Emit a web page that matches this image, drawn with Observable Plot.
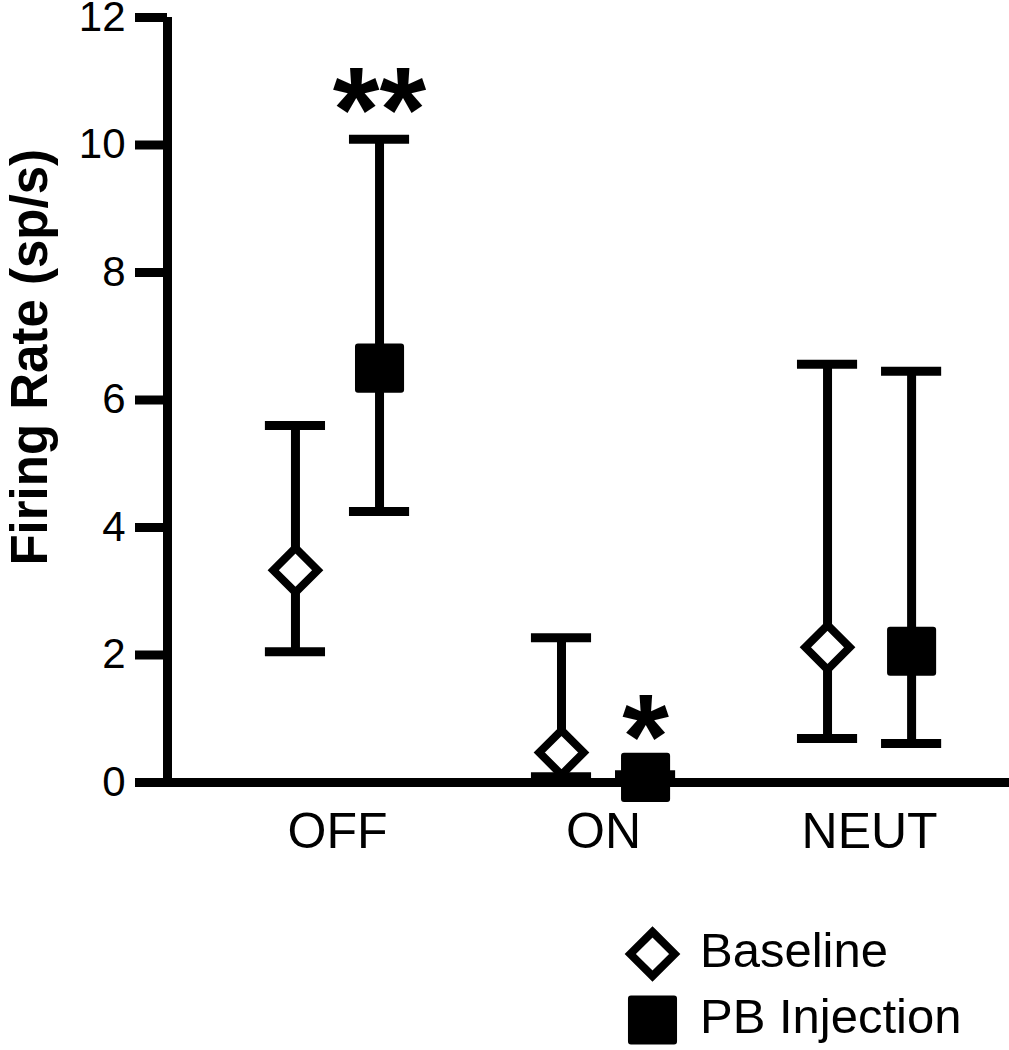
<!DOCTYPE html>
<html><head><meta charset="utf-8">
<script src="https://cdn.jsdelivr.net/npm/d3@7"></script>
<script src="https://cdn.jsdelivr.net/npm/@observablehq/plot@0.6"></script>
<style>
body{margin:0;background:#fff;font-family:"Liberation Sans",Arial,sans-serif;}
#chart svg{display:block;}
</style></head><body><div id="chart"></div><script>
// ---- data ----
const categories = ["OFF", "ON", "NEUT"];
const groups = ["Baseline", "PB Injection"];
const baselineMean = [3.33, 0.47, 2.12];
const baselineLow  = [2.05, 0.09, 0.69];
const baselineHigh = [5.60, 2.27, 6.56];
const pbMean = [6.50, 0.08, 2.06];
const pbLow  = [4.25, 0.00, 0.61];
const pbHigh = [10.09, 0.12, 6.45];
const yTicks = [0, 2, 4, 6, 8, 10, 12];
const sigLabels = ["**", "*", ""];
const sigTop = [11.25, 1.40, null];
const yTitle = "Firing Rate (sp/s)";

// ---- build table ----
const rows = [];
categories.forEach((c, i) => {
  rows.push({cat: c, i, group: groups[0], mean: baselineMean[i], lo: baselineLow[i], hi: baselineHigh[i]});
  rows.push({cat: c, i, group: groups[1], mean: pbMean[i], lo: pbLow[i], hi: pbHigh[i]});
});
const off = 0.158, capHalf = 0.113;
const xDomain = [-0.639, 2.526];
const xPos = d => d.i + (d.group === groups[0] ? -off : off);
const base = rows.filter(d => d.group === groups[0]);
const pb = rows.filter(d => d.group === groups[1]);
const caps = rows.flatMap(d => [{x: xPos(d), y: d.lo}, {x: xPos(d), y: d.hi}]);
const sig = categories.map((c, i) => ({i, label: sigLabels[i], y: sigTop[i]})).filter(d => d.label);

const plot = Plot.plot({
  width: 1009, height: 880,
  marginLeft: 167, marginRight: 0, marginTop: 17, marginBottom: 98,
  style: {fontFamily: "'Liberation Sans', Arial, sans-serif", background: "white", color: "black", overflow: "visible"},
  x: {domain: xDomain},
  y: {domain: [0, 12]},
  marks: [
    Plot.axisY({ticks: yTicks, tickSize: 32, tickPadding: 10, strokeWidth: 9, fontSize: 42, label: null}),
    Plot.axisX({ticks: [0, 1, 2], tickFormat: i => categories[i], tickSize: 0, tickPadding: 30, fontSize: 50, label: null}),
    Plot.ruleX([xDomain[0]], {y1: 0, y2: 12, strokeWidth: 9}),
    Plot.ruleY([0], {strokeWidth: 9}),
    Plot.ruleX(rows, {x: xPos, y1: "lo", y2: "hi", strokeWidth: 9}),
    Plot.ruleY(caps, {y: "y", x1: d => d.x - capHalf, x2: d => d.x + capHalf, strokeWidth: 9}),
    Plot.dot(base, {x: xPos, y: "mean", symbol: "diamond2", r: 20, fill: "white", stroke: "black", strokeWidth: 8}),
    Plot.dot(pb, {x: xPos, y: "mean", symbol: "square", r: 24.3, fill: "black", stroke: "black", strokeWidth: 6, strokeLinejoin: "round"}),
    Plot.text(sig, {x: d => d.i + off, y: "y", text: "label", fontSize: 120, fontWeight: "bold", lineAnchor: "top"}),
    Plot.text([yTitle], {frameAnchor: "left", y: () => 6.67, dx: -121, rotate: -90, fontSize: 51, fontWeight: "bold", lineAnchor: "bottom", textAnchor: "middle"})
  ]
});
document.getElementById("chart").appendChild(plot);

// ---- legend below ----
const leg = d3.select("#chart").append("svg").attr("width", 1009).attr("height", 170)
  .style("font-family", "'Liberation Sans', Arial, sans-serif");
const items = [
  {label: groups[0], sym: d3.symbolDiamond2, r: 20, fill: "white", sw: 8, cy: 74, join: "miter"},
  {label: groups[1], sym: d3.symbolSquare, r: 24.3, fill: "black", sw: 6, cy: 140, join: "round"}
];
items.forEach(it => {
  leg.append("path").attr("d", d3.symbol(it.sym, Math.PI * it.r * it.r)())
    .attr("transform", `translate(652.5,${it.cy})`)
    .attr("fill", it.fill).attr("stroke", "black").attr("stroke-width", it.sw).attr("stroke-linejoin", it.join);
  leg.append("text").attr("x", 700).attr("y", it.cy + 13).attr("font-size", 49).attr("fill", "black").text(it.label);
});
</script></body></html>
